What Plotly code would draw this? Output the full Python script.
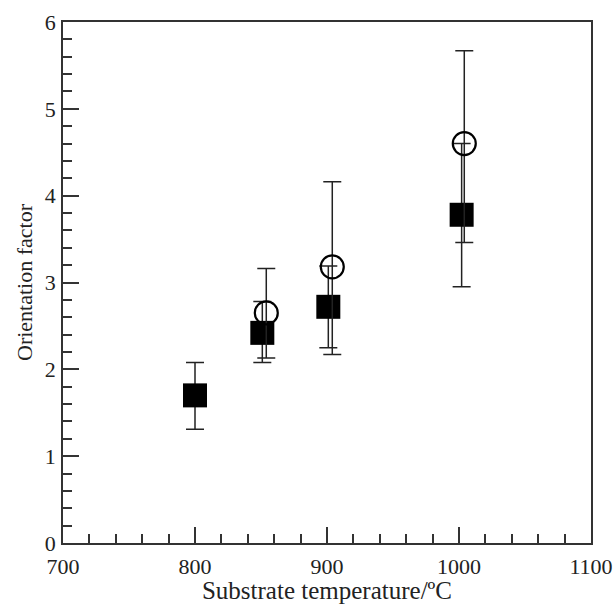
import plotly.graph_objects as go

# Filled squares
sq_x = [800, 851, 901, 1002]
sq_y = [1.70, 2.42, 2.72, 3.78]
sq_err_plus = [0.38, 0.36, 0.47, 0.82]
sq_err_minus = [0.39, 0.34, 0.47, 0.83]

# Open circles
ci_x = [854, 904, 1004]
ci_y = [2.65, 3.18, 4.60]
ci_err_plus = [0.51, 0.98, 1.07]
ci_err_minus = [0.52, 1.01, 1.14]

x_ticks = [700, 800, 900, 1000, 1100]
y_ticks = [0, 1, 2, 3, 4, 5, 6]

font_family = "Liberation Serif, Times New Roman, serif"

fig = go.Figure()
fig.add_trace(go.Scatter(
    x=sq_x, y=sq_y, mode="markers",
    marker=dict(symbol="square", size=24, color="black", line=dict(width=0)),
    error_y=dict(type="data", array=sq_err_plus, arrayminus=sq_err_minus,
                 color="#222222", thickness=1.5, width=9),
    showlegend=False,
))
fig.add_trace(go.Scatter(
    x=ci_x, y=ci_y, mode="markers",
    marker=dict(symbol="circle-open", size=23, color="black", line=dict(width=2.2, color="black")),
    error_y=dict(type="data", array=ci_err_plus, arrayminus=ci_err_minus,
                 color="#222222", thickness=1.5, width=9),
    showlegend=False,
))

axis_common = dict(
    showline=True, linecolor="#333333", linewidth=1.5, mirror=True,
    ticks="inside", ticklen=16, tickwidth=1.5, tickcolor="#333333",
    showgrid=False, zeroline=False,
    tickfont=dict(family=font_family, size=22, color="#222222"),
)

fig.update_xaxes(
    range=[700, 1100], tickvals=x_ticks, ticktext=[str(v) for v in x_ticks],
    minor=dict(dtick=20, ticks="inside", ticklen=9, tickwidth=1.5, tickcolor="#333333"),
    title=dict(text="Substrate temperature/ºC", font=dict(family=font_family, size=25, color="#222222"), standoff=4),
    ticklabelstandoff=3,
    **axis_common,
)
fig.update_yaxes(
    range=[0, 6], tickvals=y_ticks, ticktext=[str(v) for v in y_ticks],
    minor=dict(dtick=0.2, ticks="inside", ticklen=9, tickwidth=1.5, tickcolor="#333333"),
    title=dict(text="Orientation factor", font=dict(family=font_family, size=22, color="#222222"), standoff=6),
    ticklabelstandoff=1,
    **axis_common,
)

fig.update_layout(
    width=615, height=604,
    margin=dict(l=63, r=24, t=22, b=61, autoexpand=False),
    paper_bgcolor="white", plot_bgcolor="white",
)

fig.write_html("out.html", config={"displayModeBar": False},
               post_script="document.body.style.margin='0';")
